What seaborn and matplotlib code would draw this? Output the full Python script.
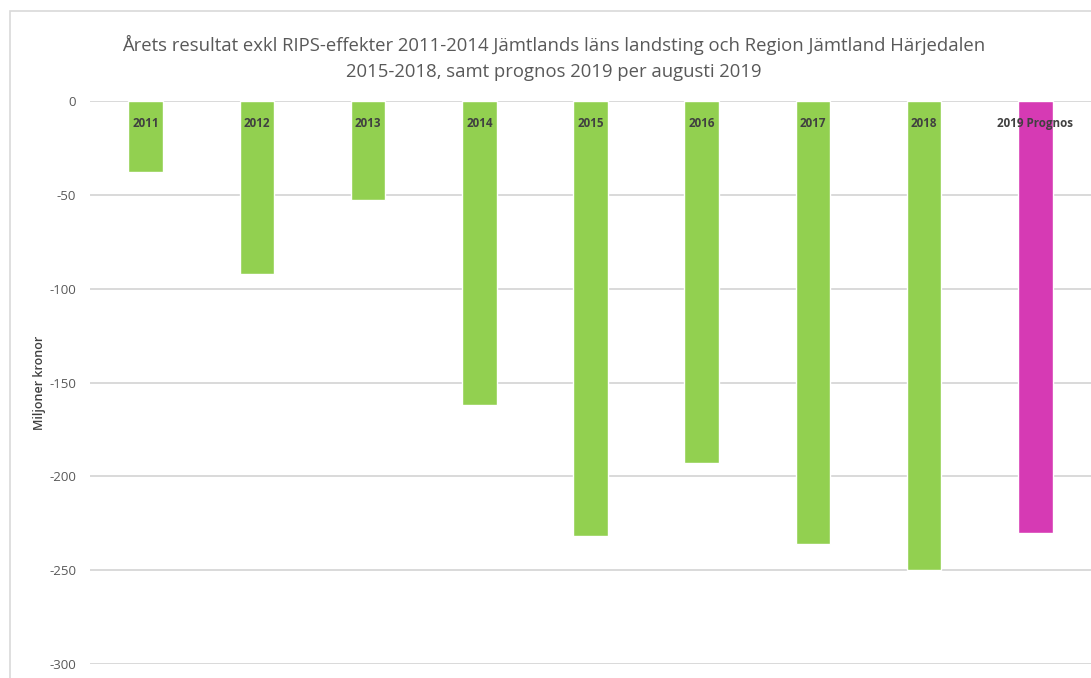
import matplotlib.pyplot as plt
import matplotlib.patches as mpatches
import pandas as pd
import seaborn as sns

# Data (miljoner kronor)
years = ["2011", "2012", "2013", "2014", "2015", "2016", "2017", "2018", "2019 Prognos"]
results = [-38, -92, -53, -162, -232, -193, -236, -250, -230]
bar_colors = ["#92D050"] * 8 + ["#D63AB4"]
y_ticks = [0, -50, -100, -150, -200, -250, -300]

TITLE = ("Årets resultat exkl RIPS-effekter 2011-2014 Jämtlands läns landsting och Region Jämtland Härjedalen\n"
         "2015-2018, samt prognos 2019 per augusti 2019")

sns.set_theme(style="white")
plt.rcParams["font.family"] = ["Open Sans", "DejaVu Sans"]
plt.rcParams["axes.unicode_minus"] = False

W, H = 1091, 678
fig = plt.figure(figsize=(W / 100, H / 100), dpi=100)
ax = fig.add_axes([90 / W, 1 - 664 / H, 1 - 90 / W, (664 - 101) / H])

# chart frame (light grey border of the embedded chart)
fig.patches.append(mpatches.Rectangle((10 / W, -0.1), 1.2, 1 - 11 / H + 0.1,
                                      transform=fig.transFigure, fill=False,
                                      edgecolor="#D9D9D9", linewidth=1.2))

df = pd.DataFrame({"year": years, "result": results})
sns.barplot(data=df, x="year", y="result", hue="year", palette=bar_colors,
            width=0.31, legend=False, saturation=1, ax=ax, zorder=3)

ax.set_ylim(-300, 0)
ax.set_yticks(y_ticks)
ax.yaxis.grid(True, color="#D9D9D9", linewidth=1.4, zorder=0)
ax.set_axisbelow(True)
for s in ax.spines.values():
    s.set_visible(False)
ax.set_xticks([])
ax.set_xlabel("")
ax.tick_params(axis="y", length=0, pad=10, labelsize=9.5, labelcolor="#595959")
ax.set_ylabel("Miljoner kronor", fontsize=9, color="#404040", fontweight="semibold")
ax.yaxis.set_label_coords(-44 / (W - 90), 0.5)

for i, lab in enumerate(years):
    ax.annotate(lab, (i, 0), xytext=(0, -16.5), textcoords="offset points",
                ha="center", va="center", fontsize=8.4, fontweight="bold",
                color="#404040", zorder=5)

fig.text(554 / W, 1 - 58 / H, TITLE, ha="center", va="center", fontsize=13.3,
         color="#595959", linespacing=1.6)

fig.savefig("out.png", dpi=100)
